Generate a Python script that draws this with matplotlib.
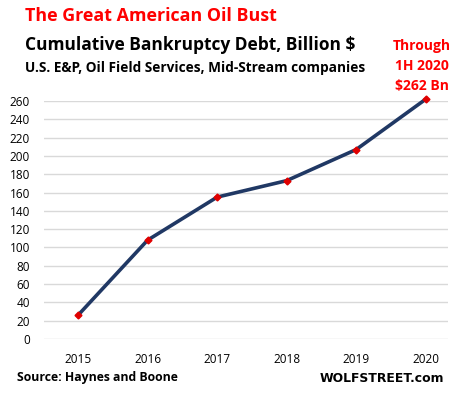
import matplotlib.pyplot as plt

years = ['2015', '2016', '2017', '2018', '2019', '2020']
debt = [26, 108, 155, 173, 207, 262]
yticks = list(range(0, 261, 20))

plt.rcParams['font.family'] = ['Open Sans', 'DejaVu Sans']

fig = plt.figure(figsize=(4.66, 3.95), dpi=100)
ax = fig.add_axes([44 / 466, 56 / 395, 404 / 466, 238 / 395])

x = range(len(years))
ax.plot(x, debt, color='#203864', lw=2.6, zorder=3, clip_on=False)
ax.plot(x, debt, ls='none', marker='D', ms=3.5, color='#E00000', zorder=4, clip_on=False)

ax.set_xlim(-0.49, 5.32)
ax.set_ylim(0, 260)
ax.set_yticks(yticks)
ax.set_xticks(list(x))
ax.set_xticklabels(years)
ax.grid(axis='y', color='#D9D9D9', lw=1)
ax.set_axisbelow(True)
for s in ax.spines.values():
    s.set_visible(False)
ax.tick_params(length=0, labelsize=8.5, colors='black')
ax.tick_params(axis='x', pad=10)
ax.tick_params(axis='y', pad=10)

# titles
fig.text(25 / 466, 1 - 16 / 395, 'The Great American Oil Bust', color='#FF0000',
         fontsize=12.9, fontweight='bold', va='center', ha='left')
fig.text(25 / 466, 1 - 45 / 395, 'Cumulative Bankruptcy Debt, Billion $', color='black',
         fontsize=12.5, fontweight='bold', va='center', ha='left')
fig.text(25 / 466, 1 - 68 / 395, 'U.S. E&P, Oil Field Services, Mid-Stream companies', color='black',
         fontsize=9.8, fontweight='bold', va='center', ha='left')
fig.text(422 / 466, 1 - 66 / 395, 'Through\n1H 2020\n$262 Bn', color='#FF0000',
         fontsize=10, fontweight='bold', va='center', ha='center', linespacing=1.55)

fig.text(17 / 466, 1 - 378 / 395, 'Source: Haynes and Boone', color='black',
         fontsize=8.8, fontweight='bold', va='center', ha='left')
fig.text(444 / 466, 1 - 378 / 395, 'WOLFSTREET.com', color='black',
         fontsize=8.9, fontweight='bold', va='center', ha='right', family=['DejaVu Sans'])

fig.savefig('out.png', dpi=100)
